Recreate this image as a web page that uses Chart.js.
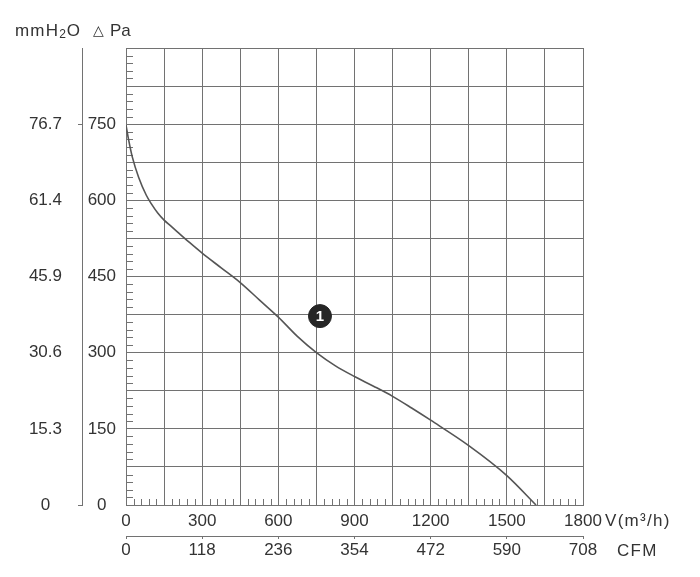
<!DOCTYPE html>
<html><head><meta charset="utf-8">
<script src="https://cdn.jsdelivr.net/npm/chart.js@4/dist/chart.umd.min.js"></script>
<style>html,body{margin:0;padding:0;background:#fff;}canvas{display:block}</style>
</head><body>
<canvas id="c" width="700" height="577"></canvas>
<script>
// ---- data ----
const flow = [0, 10, 25, 50, 80, 100, 125, 150, 175, 200, 250, 300, 375, 450, 525, 600, 675, 750, 825, 900, 975, 1050, 1125, 1200, 1350, 1500, 1615];
const pressure = [748, 720, 685, 645, 610, 593, 575, 561, 550, 539, 517, 496, 467, 438, 404, 370, 332, 300, 274, 253, 234, 214, 191, 167, 117, 58, 0];
const markerFlow = [764];
const markerPressure = [372];
const markerLabel = ['1'];
const paTicks = [0, 150, 300, 450, 600, 750];
const mmTicks = ['0', '15.3', '30.6', '45.9', '61.4', '76.7'];
const flowTicks = [0, 300, 600, 900, 1200, 1500, 1800];
const cfmTicks = ['0', '118', '236', '354', '472', '590', '708'];
const flowUnit = 'V(m³/h)';
const cfmUnit = 'CFM';
const mmUnitParts = ['mmH', '2', 'O'];
const paUnit = 'Pa';

const TEXT = '#333';
const GRID = '#727272';
const FONT = '"Liberation Sans", Arial, sans-serif';
Chart.defaults.font.family = FONT;
Chart.defaults.font.size = 17;
Chart.defaults.color = TEXT;

const extras = {
  id: 'extras',
  beforeDatasetsDraw(chart) {
    const {ctx, chartArea: a, scales: {x, y}} = chart;
    ctx.save();
    ctx.strokeStyle = GRID;
    ctx.lineWidth = 1;
    ctx.beginPath();
    for (let v = 15; v < 900; v += 15) {
      if (v % 75 === 0) continue;
      const py = Math.round(y.getPixelForValue(v)) + 0.5;
      ctx.moveTo(a.left, py); ctx.lineTo(a.left + 7, py);
    }
    for (let v = 30; v < 1800; v += 30) {
      if (v % 150 === 0) continue;
      const px = Math.round(x.getPixelForValue(v)) + 0.5;
      ctx.moveTo(px, a.bottom); ctx.lineTo(px, a.bottom - 6);
    }
    ctx.stroke();
    ctx.restore();
  },
  afterDatasetsDraw(chart) {
    const {ctx} = chart;
    const meta = chart.getDatasetMeta(1);
    ctx.save();
    ctx.fillStyle = '#fff';
    ctx.font = 'bold 15px ' + FONT;
    ctx.textAlign = 'center';
    ctx.textBaseline = 'middle';
    meta.data.forEach((p, i) => ctx.fillText(markerLabel[i], p.x, p.y + 1));
    ctx.restore();
  },
  afterDraw(chart) {
    const {ctx, scales: {x, cfm, mm}} = chart;
    ctx.save();
    ctx.fillStyle = TEXT;
    ctx.textBaseline = 'alphabetic';
    ctx.textAlign = 'left';
    ctx.font = '17px ' + FONT;
    ctx.letterSpacing = '1.3px';
    ctx.fillText(flowUnit, x.right + 22, x.top + 21);
    ctx.fillText(cfmUnit, x.right + 34, cfm.top + 20);
    // header
    let hx = mm.left + 15;
    const hy = 36;
    ctx.letterSpacing = '1.2px';
    ctx.fillText(mmUnitParts[0], hx, hy);
    hx += ctx.measureText(mmUnitParts[0]).width;
    ctx.font = '12px ' + FONT;
    ctx.letterSpacing = '0px';
    ctx.fillText(mmUnitParts[1], hx, hy + 2);
    hx += ctx.measureText(mmUnitParts[1]).width + 1;
    ctx.font = '17px ' + FONT;
    ctx.fillText(mmUnitParts[2], hx, hy);
    ctx.fillText(paUnit, mm.left + 110, hy);
    ctx.font = '14px "DejaVu Sans", sans-serif';
    ctx.fillText('△', mm.left + 93, hy - 1);
    ctx.restore();
  }
};

new Chart(document.getElementById('c'), {
  type: 'line',
  data: {
    datasets: [{
      data: flow.map((f, i) => ({x: f, y: pressure[i]})),
      borderColor: '#555',
      borderWidth: 1.6,
      pointRadius: 0,
      fill: false,
      cubicInterpolationMode: 'monotone'
    }, {
      data: markerFlow.map((f, i) => ({x: f, y: markerPressure[i]})),
      showLine: false,
      pointRadius: 11.5,
      pointHoverRadius: 11.5,
      backgroundColor: '#262626',
      borderColor: '#262626'
    }]
  },
  options: {
    responsive: false,
    animation: false,
    events: [],
    layout: {padding: {left: 0, top: 48, right: 117, bottom: 11}},
    plugins: {legend: {display: false}, tooltip: {enabled: false}},
    scales: {
      x: {
        type: 'linear', position: 'bottom', min: 0, max: 1800, weight: 0,
        afterFit: s => { s.height = 31; },
        ticks: {stepSize: 150, maxRotation: 0, autoSkip: false, padding: 6,
          callback: v => flowTicks.includes(v) ? String(v) : ''},
        grid: {color: GRID, lineWidth: 1, drawTicks: false},
        border: {color: GRID, width: 1}
      },
      cfm: {
        type: 'linear', position: 'bottom', min: 0, max: 1800, weight: 10,
        afterFit: s => { s.height = 30; },
        ticks: {stepSize: 300, maxRotation: 0, autoSkip: false, padding: 1,
          callback: v => { const i = flowTicks.indexOf(v); return i >= 0 ? cfmTicks[i] : ''; }},
        grid: {drawOnChartArea: false, drawTicks: true, tickLength: 3, color: GRID},
        border: {color: GRID, width: 1}
      },
      y: {
        type: 'linear', position: 'left', min: 0, max: 900, weight: 0,
        afterFit: s => { s.width = 44; },
        ticks: {stepSize: 75, autoSkip: false, padding: 10, crossAlign: 'center',
          callback: v => paTicks.includes(v) ? String(v) : ''},
        grid: {color: GRID, lineWidth: 1, drawTicks: false},
        border: {color: GRID, width: 1}
      },
      mm: {
        type: 'linear', position: 'left', min: 0, max: 900, weight: 10,
        afterFit: s => { s.width = 82; },
        ticks: {stepSize: 150, autoSkip: false, padding: 16, crossAlign: 'center',
          callback: v => { const i = paTicks.indexOf(v); return i >= 0 ? mmTicks[i] : ''; }},
        grid: {drawOnChartArea: false, drawTicks: true, tickLength: 4,
          color: c => (c.tick && (c.tick.value === 0 || c.tick.value === 750)) ? GRID : 'rgba(0,0,0,0)'},
        border: {color: GRID, width: 1}
      }
    }
  },
  plugins: [extras]
});
</script>
</body></html>
